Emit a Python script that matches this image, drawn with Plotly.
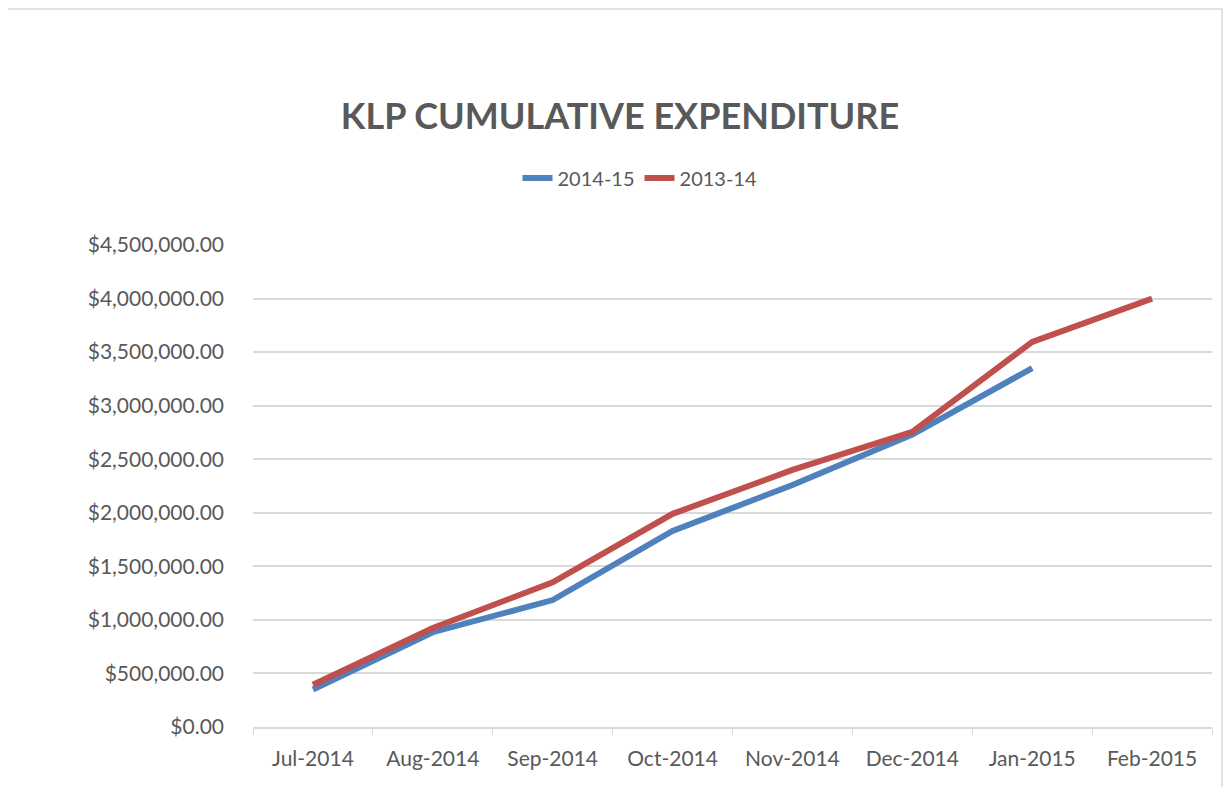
import plotly.graph_objects as go

months = ["Jul-2014", "Aug-2014", "Sep-2014", "Oct-2014",
          "Nov-2014", "Dec-2014", "Jan-2015", "Feb-2015"]
exp_2014_15 = [350000, 885000, 1185000, 1830000, 2260000, 2730000, 3350000, None]
exp_2013_14 = [395000, 925000, 1350000, 1990000, 2400000, 2755000, 3595000, 4000000]
y_ticks = [0, 500000, 1000000, 1500000, 2000000, 2500000, 3000000, 3500000, 4000000, 4500000]

# page body adds an 8px margin, so work in screen pixels and shift by 8
OFF = 8
W, H = 1232 - OFF, 787 - OFF
L, R, T, B = 253 - OFF, 20, 245 - OFF, 60
pw, ph = W - L - R, H - T - B

def px_x(v):
    return (v - OFF - L) / pw

def px_y(v):
    return (H - B - (v - OFF)) / ph

grey = "#595959"
fig = go.Figure()
fig.add_trace(go.Scatter(x=months, y=exp_2014_15, name="2014-15", mode="lines",
                         line=dict(color="#4F81BD", width=6)))
fig.add_trace(go.Scatter(x=months, y=exp_2013_14, name="2013-14", mode="lines",
                         line=dict(color="#C0504D", width=6)))

fig.update_layout(
    width=W, height=H,
    margin=dict(l=L, r=R, t=T, b=B, autoexpand=False),
    paper_bgcolor="white", plot_bgcolor="white",
    font=dict(family="Lato, Open Sans, sans-serif", color=grey, size=21),
    title=dict(text="<b>KLP CUMULATIVE EXPENDITURE</b>", x=(620 - OFF) / W, xref="container",
               y=1 - (116 - OFF) / H, yanchor="middle", xanchor="center",
               font=dict(size=36, color=grey)),
    legend=dict(orientation="h", x=px_x(640), xanchor="center", y=px_y(178), yanchor="middle",
                font=dict(size=20, color=grey)),
    xaxis=dict(type="category", range=[-0.5, 7.5], tickson="boundaries", ticks="outside",
               ticklen=6, tickcolor="#d9d9d9", showline=True, linecolor="#d9d9d9",
               linewidth=1.5, showgrid=False, automargin=False, ticklabelstandoff=12,
               tickfont=dict(size=21, color=grey)),
    yaxis=dict(range=[0, 4500000], tickvals=y_ticks,
               ticktext=["${:,.2f}".format(v) for v in y_ticks],
               showgrid=True, gridcolor="#d9d9d9", gridwidth=1.5, zeroline=False,
               automargin=False, ticks="", ticklabelstandoff=28,
               tickfont=dict(size=21, color=grey)),
    shapes=[dict(type="rect", xref="paper", yref="paper",
                 x0=px_x(3), x1=px_x(1222), y0=px_y(800), y1=px_y(9),
                 line=dict(color="#d9d9d9", width=1.5), layer="below")],
)

fig.write_html("out.html")
